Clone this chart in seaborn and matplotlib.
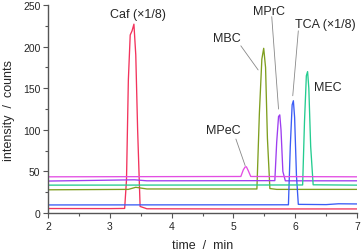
import matplotlib
matplotlib.use("Agg")
import matplotlib.pyplot as plt
from matplotlib.ticker import MultipleLocator
import seaborn as sns

# traces (time in min, intensity in counts)
caf_t = [2.0, 3.0, 3.24, 3.27, 3.30, 3.33, 3.36, 3.39, 3.42, 3.45, 3.49, 3.6, 5.0, 7.0]
caf_y = [5.5, 5.4, 5.6, 40, 160, 214, 219, 227, 190, 100, 8, 5.2, 5.0, 5.0]

mbc_t = [2.0, 3.3, 3.42, 3.6, 5.38, 5.42, 5.46, 5.49, 5.52, 5.55, 5.59, 5.7, 7.0]
mbc_y = [28.0, 28.5, 31.0, 29.0, 29.0, 120, 185, 198, 175, 90, 29.5, 28.5, 28.5]

mprc_t = [2.0, 3.4, 3.6, 5.67, 5.70, 5.73, 5.75, 5.77, 5.80, 5.84, 7.0]
mprc_y = [38.5, 40.0, 38.8, 39.0, 85, 116, 118, 100, 50, 38.8, 38.8]

tca_t = [2.0, 5.89, 5.92, 5.95, 5.97, 5.99, 6.02, 6.05, 6.5, 6.7, 7.0]
tca_y = [9.8, 10.0, 80, 130, 135, 115, 45, 10.5, 10.2, 11.2, 11.0]

mec_t = [2.0, 6.12, 6.15, 6.18, 6.20, 6.22, 6.25, 6.29, 7.0]
mec_y = [33.6, 33.8, 110, 165, 170, 150, 80, 34, 33.6]

mpec_t = [2.0, 5.12, 5.16, 5.19, 5.21, 5.24, 5.28, 7.0]
mpec_y = [43.6, 44.0, 52, 55.5, 55.6, 51, 44.0, 43.6]

traces = [
    (caf_t, caf_y, "#f2335c"),
    (mbc_t, mbc_y, "#7f9f1f"),
    (mprc_t, mprc_y, "#9d3ef0"),
    (tca_t, tca_y, "#3b5cf5"),
    (mec_t, mec_y, "#24cc90"),
    (mpec_t, mpec_y, "#e34ee3"),
]

# label text, text position, leader end (None = no leader)
labels = [
    ("Caf (\u00d71/8)", (3.45, 239), None),
    ("MBC", (4.90, 210), (5.40, 172)),
    ("MPrC", (5.58, 243), (5.73, 125)),
    ("TCA (\u00d71/8)", (6.48, 227), (5.96, 141)),
    ("MEC", (6.52, 151), None),
    ("MPeC", (4.84, 100), (5.19, 57)),
]
leader_start = {
    "MBC": (5.12, 201),
    "MPrC": (5.62, 236),
    "TCA (\u00d71/8)": (6.05, 219),
    "MPeC": (5.04, 89),
}

sns.set_style("ticks")
plt.rcParams["font.family"] = ["Liberation Sans", "DejaVu Sans"]

fig = plt.figure(figsize=(3.61, 2.51), dpi=100)
ax = fig.add_axes([0.133, 0.147, 0.856, 0.829])

for t, y, c in traces:
    sns.lineplot(x=t, y=y, color=c, lw=0.95, ax=ax, sort=False)

for text, pos, end in labels:
    ax.text(pos[0], pos[1], text, ha="center", va="center", fontsize=9)
    if end is not None:
        ax.annotate("", xy=end, xytext=leader_start[text],
                    arrowprops=dict(arrowstyle="-", color="#888888", lw=0.6,
                                    shrinkA=0, shrinkB=0))

ax.set_xlim(2, 7)
ax.set_ylim(0, 250)
ax.xaxis.set_major_locator(MultipleLocator(1))
ax.xaxis.set_minor_locator(MultipleLocator(0.5))
ax.yaxis.set_major_locator(MultipleLocator(50))
ax.yaxis.set_minor_locator(MultipleLocator(25))
sns.despine(ax=ax)
for s in ["left", "bottom"]:
    ax.spines[s].set_color("#555555")
    ax.spines[s].set_linewidth(1.0)
ax.tick_params(which="major", length=3.5, width=0.8, color="#555555", labelsize=7.5, pad=2)
ax.tick_params(which="minor", length=2, width=0.8, color="#555555")
ax.set_xlabel("time  /  min", fontsize=9, labelpad=6)
ax.set_ylabel("intensity  /  counts", fontsize=9, labelpad=6)

fig.savefig("out.png", dpi=100)
